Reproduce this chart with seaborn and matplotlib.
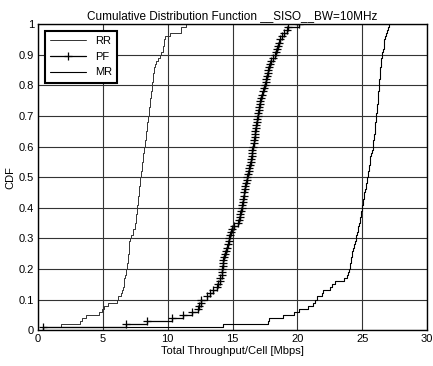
import numpy as np
import pandas as pd
import seaborn as sns
import matplotlib.pyplot as plt

# Throughput samples (Mbps), one per 1% step
rr_vals = [0.4, 1.8, 3.2, 3.4, 3.7, 4.7, 4.9, 5.1, 5.4, 6.1,
           6.2, 6.4, 6.5, 6.55, 6.6, 6.62, 6.65, 6.7, 6.75, 6.8,
           6.85, 6.88, 6.9, 6.93, 6.96, 6.98, 7.0, 7.02, 7.04, 7.1,
           7.2, 7.3, 7.35, 7.45, 7.5, 7.52, 7.53, 7.56, 7.6, 7.62,
           7.65, 7.68, 7.7, 7.73, 7.76, 7.79, 7.82, 7.84, 7.86, 7.89,
           7.92, 7.95, 7.98, 8.0, 8.03, 8.06, 8.1, 8.13, 8.17, 8.2,
           8.23, 8.26, 8.29, 8.32, 8.35, 8.38, 8.41, 8.44, 8.47, 8.5,
           8.53, 8.56, 8.58, 8.61, 8.64, 8.67, 8.7, 8.72, 8.75, 8.78,
           8.8, 8.83, 8.86, 8.9, 8.93, 8.97, 9.0, 9.1, 9.25, 9.4,
           9.5, 9.6, 9.65, 9.7, 9.75, 9.8, 10.2, 11.0, 11.05, 11.4]

pf_vals = [0.4, 6.8, 8.4, 10.3, 11.15, 11.85, 12.3, 12.45, 12.55, 12.6,
           13.0, 13.3, 13.5, 13.8, 13.9, 14.0, 14.05, 14.15, 14.2, 14.22,
           14.25, 14.28, 14.3, 14.38, 14.45, 14.52, 14.55, 14.62, 14.7, 14.75,
           14.82, 14.88, 14.93, 15.15, 15.4, 15.5, 15.55, 15.6, 15.65, 15.7,
           15.73, 15.77, 15.8, 15.85, 15.9, 15.93, 15.96, 16.02, 16.08, 16.14,
           16.2, 16.25, 16.3, 16.35, 16.4, 16.45, 16.48, 16.5, 16.54, 16.58,
           16.62, 16.66, 16.7, 16.73, 16.76, 16.8, 16.84, 16.87, 16.9, 16.95,
           16.99, 17.03, 17.07, 17.1, 17.15, 17.2, 17.3, 17.38, 17.45, 17.5,
           17.55, 17.6, 17.65, 17.7, 17.75, 17.82, 17.88, 17.95, 18.1, 18.25,
           18.35, 18.42, 18.48, 18.55, 18.68, 18.8, 19.0, 19.2, 19.3, 20.1]

mr_vals = [0.4, 14.3, 17.75, 17.8, 18.9, 19.75, 20.1, 20.8, 21.2, 21.4,
           21.5, 21.9, 22.0, 22.5, 22.7, 22.9, 23.6, 23.8, 23.9, 24.0,
           24.05, 24.1, 24.13, 24.16, 24.2, 24.25, 24.3, 24.36, 24.42, 24.5,
           24.56, 24.62, 24.66, 24.7, 24.76, 24.82, 24.86, 24.9, 24.94, 24.97,
           25.0, 25.03, 25.08, 25.13, 25.18, 25.22, 25.27, 25.32, 25.36, 25.4,
           25.43, 25.46, 25.5, 25.53, 25.57, 25.6, 25.64, 25.7, 25.75, 25.8,
           25.83, 25.86, 25.9, 25.93, 25.96, 25.98, 26.0, 26.02, 26.04, 26.06,
           26.09, 26.12, 26.15, 26.18, 26.2, 26.22, 26.24, 26.26, 26.27, 26.28,
           26.3, 26.32, 26.35, 26.37, 26.39, 26.41, 26.43, 26.44, 26.45, 26.5,
           26.55, 26.62, 26.65, 26.68, 26.72, 26.78, 26.85, 26.9, 26.98, 27.05]

x_ticks = [0, 5, 10, 15, 20, 25, 30]
y_ticks = [0, 0.1, 0.2, 0.3, 0.4, 0.5, 0.6, 0.7, 0.8, 0.9, 1]
y_labels = ['0', '0.1', '0.2', '0.3', '0.4', '0.5', '0.6', '0.7', '0.8', '0.9', '1']

sns.set_style('white', {'text.color': 'black', 'axes.labelcolor': 'black',
                        'xtick.color': 'black', 'ytick.color': 'black'})
plt.rcParams['font.family'] = ['Liberation Sans', 'DejaVu Sans']

fig = plt.figure(figsize=(4.33, 3.66), dpi=100)
ax = fig.add_axes([0.088, 0.098, 0.898, 0.836])

sns.ecdfplot(x=rr_vals, ax=ax, color='#333333', lw=0.7, label='RR')
sns.ecdfplot(x=pf_vals, ax=ax, color='black', lw=0.9, marker='+',
             markersize=5.5, markeredgewidth=0.9, label='PF')
sns.ecdfplot(x=mr_vals, ax=ax, color='black', lw=0.8, label='MR')

ax.set_xlim(0, 30)
ax.set_ylim(0, 1)
ax.set_xticks(x_ticks)
ax.set_yticks(y_ticks)
ax.set_yticklabels(y_labels)
ax.tick_params(labelsize=8, direction='in', length=3, color='black',
               labelcolor='black', pad=3)
ax.grid(True, color='#333333', lw=0.8)
ax.set_axisbelow(True)
for sp in ax.spines.values():
    sp.set_color('black')
    sp.set_linewidth(1.0)

ax.set_title('Cumulative Distribution Function __SISO__BW=10MHz', fontsize=8.5,
             pad=4, color='black')
ax.set_xlabel('Total Throughput/Cell [Mbps]', fontsize=8, labelpad=1, color='black')
ax.set_ylabel('CDF', fontsize=8, labelpad=2, color='black')

leg = ax.legend(loc='upper left', fontsize=8, frameon=True, fancybox=False,
                borderaxespad=0.6, handlelength=3.2, labelspacing=0.5,
                borderpad=0.5)
leg.get_frame().set_edgecolor('black')
leg.get_frame().set_linewidth(1.5)
leg.get_frame().set_alpha(1)
for t in leg.get_texts():
    t.set_color('black')

plt.savefig('out.png', dpi=100)
plt.close()
